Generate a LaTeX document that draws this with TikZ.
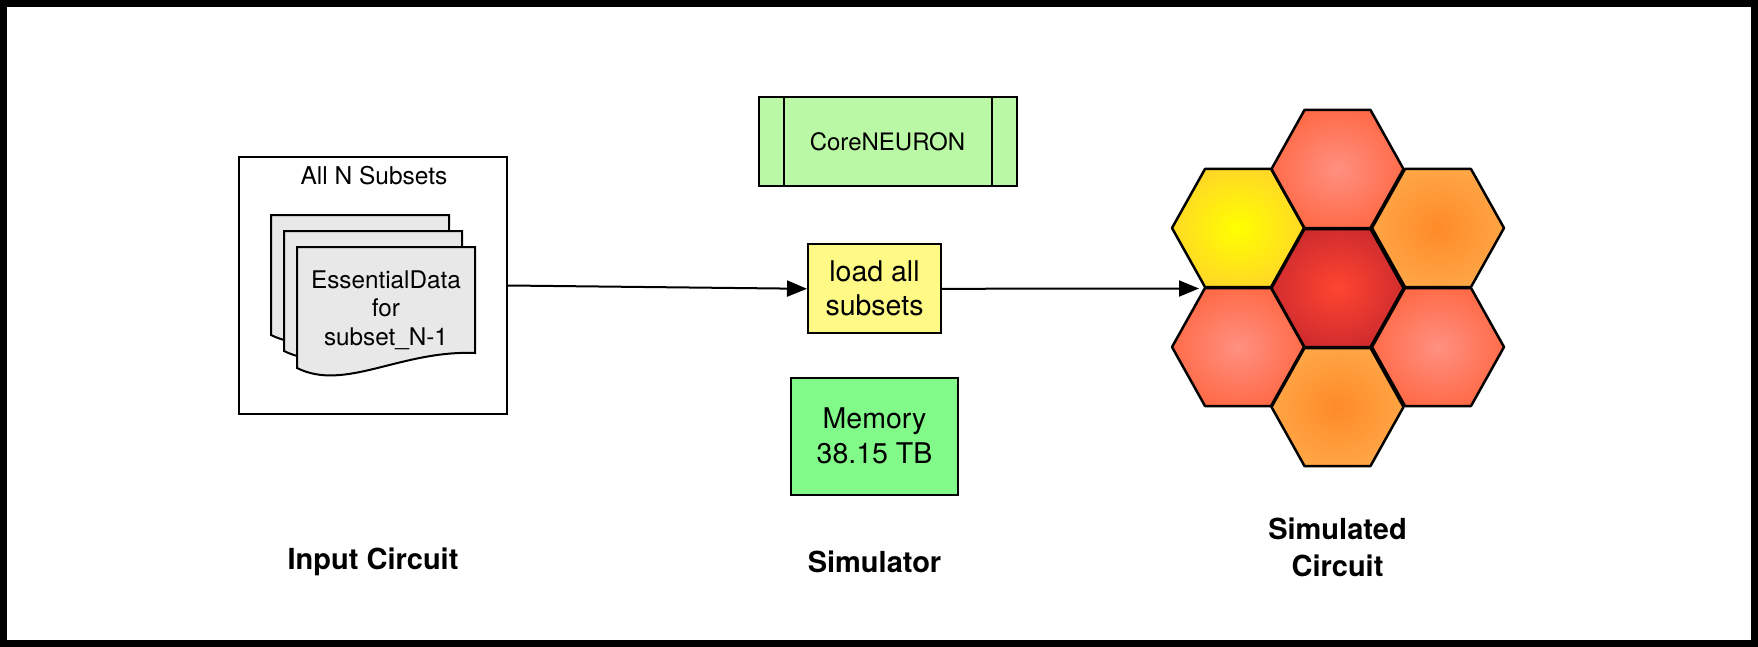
\documentclass[tikz,border=0pt]{standalone}
\usepackage{fontspec}
\setmainfont{TeX Gyre Heros}
\usetikzlibrary{arrows.meta,calc}

% radial glow used for the hexagonal cells; depends on the two colours below
\colorlet{hexin}{white}
\colorlet{hexout}{black}
\pgfdeclareradialshading[hexin,hexout]{hexglow}{\pgfpoint{0bp}{0bp}}{%
  color(0bp)=(hexin); color(30bp)=(hexout); color(50bp)=(hexout)}

\definecolor{sheetgray}{HTML}{E8E8E8}
\definecolor{coregreen}{HTML}{BBF8A6}
\definecolor{loadyellow}{HTML}{FFFA86}
\definecolor{memgreen}{HTML}{82FA8A}
\definecolor{salmonin}{HTML}{FF9080}
\definecolor{salmonout}{HTML}{FF653F}
\definecolor{yellowin}{HTML}{FFFF00}
\definecolor{yellowout}{HTML}{FFD22C}
\definecolor{orangein}{HTML}{FF8A28}
\definecolor{orangeout}{HTML}{FFAA4A}
\definecolor{redin}{HTML}{FF4530}
\definecolor{redout}{HTML}{C8282E}

\tikzset{
  box/.style={draw=black, line width=2pt, inner sep=0pt, align=center},
  sheet/.style={draw=black, line width=2pt, fill=sheetgray},
  link/.style={line width=2pt, -{Triangle[length=20pt,width=16pt]}},
  caption/.style={font=\fontsize{29}{36.5}\selectfont\bfseries, align=center},
}

% one hexagonal cell: centre x, centre y, inner colour, outer colour
\newcommand{\hexcell}[4]{%
  \colorlet{hexin}{#3}\colorlet{hexout}{#4}%
  \shade[shading=hexglow, draw=black, line width=2.5pt, line join=round]
    (#1-66,#2) -- (#1-33,#2-59) -- (#1+33,#2-59) -- (#1+66,#2)
    -- (#1+33,#2+59) -- (#1-33,#2+59) -- cycle;%
  \coordinate (hex-#1-#2) at (#1,#2);%
}

% one sheet of the document stack: left, top, right, bottom right, bottom left
\newcommand{\docsheet}[5]{%
  \draw[sheet] (#1,#2) -- (#3,#2) -- (#3,#4)
    .. controls ({#3-0.42*(#3-#1)},#4-3) and ({#1+0.27*(#3-#1)},#5+24) .. (#1,#5) -- cycle;%
}

\begin{document}
\begin{tikzpicture}[x=1pt, y=-1pt]
  \useasboundingbox (0,0) rectangle (1758,647);
  \fill[white] (0,0) rectangle (1758,647);
  % outer frame
  \draw[line width=7pt] (3.5,3.5) rectangle (1754.5,643.5);

  % input circuit
  \node[box, minimum width=268pt, minimum height=257pt] (inbox) at (373,285.5) {};
  \node[font=\fontsize{24.5}{29}\selectfont] (alln) at (374,176) {All N Subsets};
  \docsheet{271}{215}{449}{321}{335}
  \docsheet{284}{231}{462}{337}{351}
  \docsheet{297}{247}{475}{353}{368}
  \node[font=\fontsize{24.3}{28.5}\selectfont, align=center] (essential) at (386,310)
    {EssentialData\\for\\subset\_N-1};

  % simulator
  \node[box, fill=coregreen, minimum width=258pt, minimum height=89pt,
        font=\fontsize{24}{29}\selectfont] (core) at (887.5,141.3) {CoreNEURON};
  \draw[line width=2pt] ($(core.north west)+(26.7,0)$) -- ($(core.south west)+(26.7,0)$);
  \draw[line width=2pt] ($(core.north east)+(-26,0)$) -- ($(core.south east)+(-26,0)$);
  \node[box, fill=loadyellow, minimum width=133pt, minimum height=89pt,
        font=\fontsize{28.5}{34}\selectfont] (load) at (874.5,288.8) {load all\\subsets};
  \node[box, fill=memgreen, minimum width=167.6pt, minimum height=117.3pt,
        font=\fontsize{28.5}{35}\selectfont] (mem) at (874.5,436.3) {Memory\\38.15 TB};

  % simulated circuit
  \hexcell{1337.5}{169}{salmonin}{salmonout}
  \hexcell{1238}{228}{yellowin}{yellowout}
  \hexcell{1438}{228}{orangein}{orangeout}
  \hexcell{1337.5}{288}{redin}{redout}
  \hexcell{1238}{347}{salmonin}{salmonout}
  \hexcell{1438}{347}{salmonin}{salmonout}
  \hexcell{1337.5}{407}{orangein}{orangeout}
  \coordinate (hexentry) at (1199,288.5);

  % connectors
  \draw[link] (inbox.east) -- (load.west);
  \draw[link] (load.east) -- (hexentry);

  % captions
  \node[caption] (incap) at (373,562) {Input Circuit};
  \node[caption] (simcap) at (874.5,562) {Simulator};
  \node[caption] (outcap) at (1337.5,547.5) {Simulated\\Circuit};
\end{tikzpicture}
\end{document}
